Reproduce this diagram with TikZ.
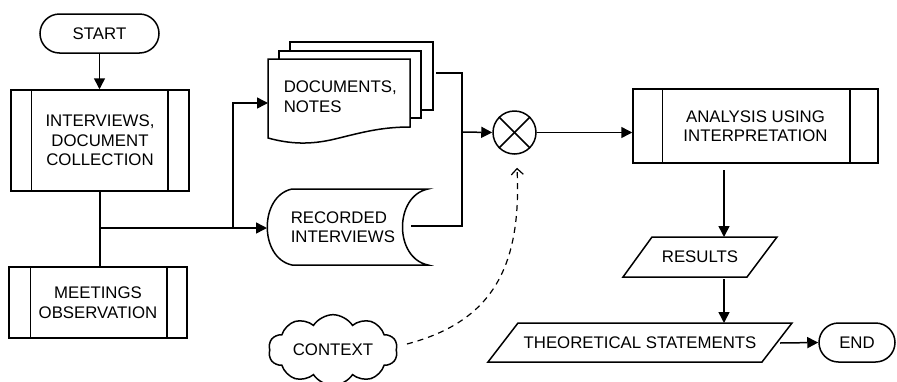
\documentclass[tikz,border=0pt]{standalone}
\usepackage{fontspec}
\setmainfont{Liberation Sans}
\usetikzlibrary{arrows.meta,shapes.misc,shapes.symbols,calc}
\begin{document}
\begin{tikzpicture}[x=1pt,y=-1pt,line width=1.5pt,
  every node/.style={font=\fontsize{16.8}{19.5}\selectfont, inner sep=0pt},
  arr/.style={-{Triangle[length=11pt,width=11pt]}},
  term/.style={draw, rounded rectangle, minimum height=39pt},
  proc/.style={draw, rectangle, align=center},
  page/.style={draw, fill=white},
  dashcon/.style={dash pattern=on 6pt off 5pt, line width=1.2pt, -{Straight Barb[length=6pt,width=12pt]}}
]
\useasboundingbox (0,0) rectangle (897,381);

% START
\node[term, minimum width=119pt] (start) at (99.5,33.5) {START};

% Interviews (predefined process)
\node[proc, minimum width=178pt, minimum height=101pt] (int) at (100,140.5) {INTERVIEWS,\\DOCUMENT\\COLLECTION};
\draw ($(int.north west)+(21,0)$) -- ($(int.south west)+(21,0)$);
\draw ($(int.north east)+(-22,0)$) -- ($(int.south east)+(-22,0)$);

% Meetings
\node[proc, minimum width=178pt, minimum height=71pt] (meet) at (98,302.5) {MEETINGS\\OBSERVATION};
\draw ($(meet.north west)+(22,0)$) -- ($(meet.south west)+(22,0)$);
\draw ($(meet.north east)+(-21,0)$) -- ($(meet.south east)+(-21,0)$);

% Documents stack
\draw[page] (290,42) rectangle (433,110);
\draw[page] (279,51) rectangle (421,118);
\draw[page] (268,59) -- (410,59) -- (410,127)
  .. controls (380,127) and (360,133) .. (335,139)
  .. controls (310,145) and (290,144) .. (268,138) -- cycle;
\node[align=left, anchor=west] (doc) at (283,96.5) {DOCUMENTS,\\NOTES};
\coordinate (docW) at (268,103);
\coordinate (docE) at (436,73);

% Recorded interviews (stored data)
\draw (292,189) -- (428,189)
  .. controls (394,196) and (394,258) .. (428,265) -- (292,265)
  .. controls (259,258) and (259,196) .. (292,189) -- cycle;
\node[align=left, anchor=west] (rec) at (290,227) {RECORDED\\INTERVIEWS};
\coordinate (recW) at (267,228);
\coordinate (recE) at (411,226);

% Junctions
\coordinate (j1) at (100,228);
\coordinate (j2) at (233,228);
\coordinate (m) at (462,132);

% Multiplier circle
\node[draw, circle, minimum size=43pt] (cx) at (514.5,132.5) {};
\draw (cx.45) -- (cx.225);
\draw (cx.135) -- (cx.315);

% Analysis
\node[proc, minimum width=245pt, minimum height=74pt] (ana) at (755.5,126) {ANALYSIS USING\\INTERPRETATION};
\draw ($(ana.north west)+(30,0)$) -- ($(ana.south west)+(30,0)$);
\draw ($(ana.north east)+(-29,0)$) -- ($(ana.south east)+(-29,0)$);
\coordinate (anaS) at (724,170);

% Results
\draw (652,237) -- (777,237) -- (747,277) -- (623,277) -- cycle;
\node (res) at (700,257) {RESULTS};
\coordinate (resN) at (724,237);
\coordinate (resS) at (724,279);

% Theoretical statements
\draw (518,323) -- (792,323) -- (762,362) -- (488,362) -- cycle;
\node (th) at (640,343) {THEORETICAL STATEMENTS};
\coordinate (thN) at (724,323);
\coordinate (thE) at (780,343);

% END
\node[term, minimum width=76pt] (end) at (857,342.5) {END};

% Context cloud
\node[draw, cloud, cloud puffs=10, cloud puff arc=115, aspect=2.1, minimum width=129pt, minimum height=64pt] (ctx) at (333,350) {CONTEXT};

% Connectors
\draw[arr] (start.south) -- (start.south |- int.north);
\draw (int.south) -- (int.south |- meet.north);
\draw[arr] (j1) -- (recW);
\draw[arr] (j2) |- (docW);
\draw (docE) -| (m);
\draw (recE) -| (m);
\draw[arr] (m) -- (cx.west);
\draw[arr] (cx.east) -- (cx.east -| ana.west);
\draw[arr] (anaS) -- (resN);
\draw[arr] (resS) -- (thN);
\draw[arr] (thE) -- (end.west);
\draw[dashcon] ($(ctx.east)+(10,-6)$) .. controls (490,322) and (522,270) .. ($(cx.south)+(2.5,13)$);
\end{tikzpicture}
\end{document}
